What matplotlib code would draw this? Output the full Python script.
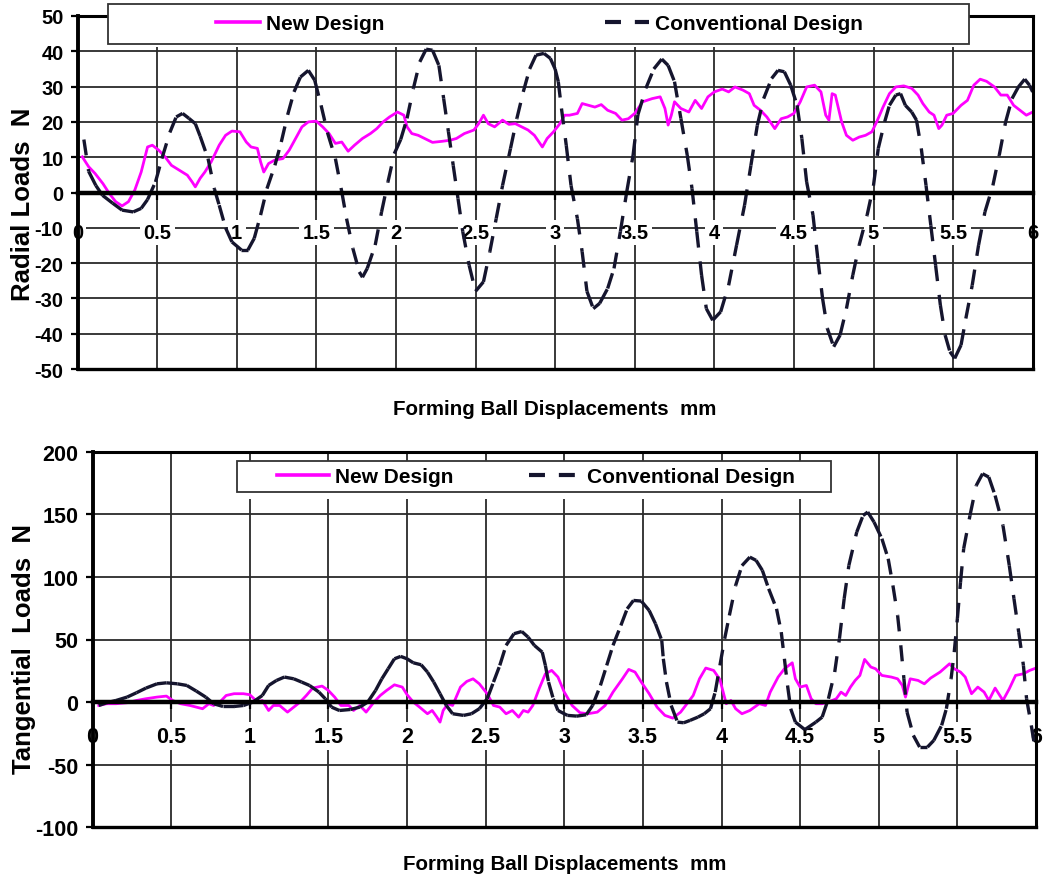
import matplotlib
matplotlib.use("Agg")
import matplotlib.pyplot as plt
from matplotlib.collections import LineCollection
from matplotlib.lines import Line2D
from matplotlib.patches import Rectangle
import numpy as np

plt.rcParams['font.family'] = ['Liberation Sans', 'DejaVu Sans']
plt.rcParams['font.weight'] = 'bold'
plt.rcParams['lines.scale_dashes'] = False

# ---------------- data ----------------
radial_conv_x = [0.04, 0.07, 0.115, 0.157, 0.22, 0.28, 0.35, 0.40, 0.44, 0.49, 0.53, 0.58, 0.62, 0.66,
                 0.70, 0.74, 0.77, 0.82, 0.86, 0.89, 0.93, 0.97, 1.03, 1.07, 1.11, 1.15, 1.19, 1.24,
                 1.28, 1.32, 1.36, 1.40, 1.45, 1.49, 1.53, 1.57, 1.62, 1.66, 1.69, 1.73, 1.77, 1.79,
                 1.82, 1.87, 1.91, 1.95, 1.99, 2.03, 2.07, 2.11, 2.15, 2.19, 2.23, 2.27, 2.30, 2.33,
                 2.36, 2.39, 2.42, 2.46, 2.50, 2.55, 2.59, 2.63, 2.67, 2.72, 2.76, 2.80, 2.84, 2.88,
                 2.93, 2.97, 3.00, 3.02, 3.04, 3.07, 3.10, 3.14, 3.17, 3.20, 3.24, 3.28, 3.33, 3.37,
                 3.41, 3.45, 3.49, 3.52, 3.57, 3.62, 3.67, 3.71, 3.75, 3.79, 3.83, 3.86, 3.89, 3.92,
                 3.95, 3.99, 4.04, 4.09, 4.14, 4.19, 4.23, 4.27, 4.31, 4.36, 4.40, 4.44, 4.48, 4.52,
                 4.55, 4.58, 4.62, 4.65, 4.68, 4.71, 4.75, 4.79, 4.83, 4.87, 4.91, 4.96, 5.00, 5.03,
                 5.07, 5.10, 5.14, 5.17, 5.20, 5.24, 5.27, 5.30, 5.33, 5.36, 5.39, 5.42, 5.45, 5.48,
                 5.51, 5.55, 5.58, 5.62, 5.66, 5.70, 5.75, 5.79, 5.83, 5.87, 5.91, 5.95, 5.98, 6.00]
radial_conv_y = [15, 6, 2, -0.8, -3, -5, -5.5, -4.5, -2, 3, 9.6, 17, 21.4, 22.4,
                 21, 19.5, 16, 9.6, 1, -3.6, -10, -14, -16.3, -16.3, -13, -6.4, 1.1, 7.7,
                 14.3, 22, 28.5, 32.7, 34.6, 31.8, 24.7, 17, 9.6, 0.2, -7.4, -15.9, -22.5, -24,
                 -21.5, -14.9, -5.5, 3, 11, 15, 21, 29.5, 37, 40.6, 40.3, 36, 26.6, 17.2,
                 7.7, -1.7, -11.1, -20.6, -28, -25.3, -16.8, -7.4, 2, 12.5, 21, 28.5, 35, 38.9,
                 39.4, 38, 35, 31.4, 23.8, 13.4, 2, -7.4, -16.8, -28, -32.9, -31.4, -27.2, -21.5,
                 -11.1, 0.2, 10.6, 22, 29.5, 35, 37.8, 36, 31.4, 21, 10.6, 1.1, -11.1, -23.4,
                 -32.9, -36.2, -33.8, -26.3, -14.9, -3.6, 7.7, 19, 26.6, 32.3, 34.6, 34.2, 30.4, 24.7,
                 15.3, 3, -6.4, -18.7, -30, -38.5, -43.7, -40.4, -32.9, -23.4, -14.9, -6.4, 2, 12.5,
                 20, 24.7, 27.6, 28, 24.7, 22.8, 20.5, 12.5, 2, -9.3, -20.6, -31.9, -40.4, -45.1,
                 -47, -43.2, -35.7, -26.3, -14.9, -5.5, 2, 10.6, 20, 26.6, 29.9, 32.1, 30.4, 28.5]

radial_new_x = [0.03, 0.07, 0.11, 0.16, 0.20, 0.24, 0.28, 0.32, 0.36, 0.40, 0.44, 0.47, 0.51, 0.55,
                0.59, 0.64, 0.69, 0.72, 0.74, 0.77, 0.80, 0.84, 0.89, 0.93, 0.97, 1.02, 1.06, 1.09,
                1.13, 1.15, 1.17, 1.20, 1.24, 1.29, 1.33, 1.37, 1.41, 1.45, 1.50, 1.54, 1.58, 1.62,
                1.66, 1.70, 1.74, 1.79, 1.84, 1.88, 1.92, 1.96, 2.01, 2.05, 2.07, 2.10, 2.14, 2.18,
                2.23, 2.29, 2.34, 2.38, 2.43, 2.49, 2.52, 2.55, 2.58, 2.62, 2.67, 2.71, 2.75, 2.79,
                2.83, 2.87, 2.92, 2.95, 2.99, 3.03, 3.06, 3.09, 3.14, 3.17, 3.21, 3.25, 3.29, 3.33,
                3.38, 3.42, 3.46, 3.50, 3.55, 3.61, 3.66, 3.69, 3.71, 3.73, 3.75, 3.79, 3.84, 3.88,
                3.92, 3.96, 4.00, 4.05, 4.09, 4.13, 4.18, 4.22, 4.25, 4.29, 4.33, 4.38, 4.42, 4.46,
                4.50, 4.54, 4.58, 4.63, 4.67, 4.70, 4.72, 4.74, 4.76, 4.80, 4.83, 4.87, 4.91, 4.95,
                4.99, 5.02, 5.06, 5.10, 5.14, 5.19, 5.24, 5.28, 5.31, 5.35, 5.38, 5.41, 5.43, 5.46,
                5.50, 5.55, 5.59, 5.63, 5.67, 5.71, 5.76, 5.80, 5.84, 5.88, 5.92, 5.96, 6.00]
radial_new_y = [10.1, 7.3, 5.4, 2.5, -0.3, -2.6, -3.8, -2.6, 0.7, 5.8, 12.9, 13.4, 12, 10.1,
                7.7, 6.3, 4.9, 3, 1.6, 4, 5.8, 8.7, 13.4, 16.2, 17.4, 17.2, 14.3, 12.9,
                12.5, 8.7, 5.8, 8.2, 9.2, 9.6, 12, 15.3, 18.6, 20, 20.2, 18.6, 16.7, 13.9,
                14.3, 11.7, 13.4, 15.3, 16.7, 18.1, 20, 21.4, 22.8, 21.9, 18.6, 16.7, 16.2, 15.3,
                14.2, 14.5, 14.8, 15.3, 16.7, 17.7, 19.5, 21.9, 19.5, 18.6, 20.5, 19.3, 19.5, 18.6,
                17.7, 16.2, 12.9, 15.3, 17.2, 19.5, 21.9, 21.9, 22.4, 25.2, 24.7, 24.2, 24.9, 23.3,
                22.4, 20.5, 20.9, 22.4, 25.7, 26.6, 27.1, 23.8, 19.1, 21.9, 25.7, 23.8, 22.8, 26.1,
                23.8, 27.1, 28.5, 29.3, 28.5, 29.9, 29, 28, 24.7, 23.3, 21.4, 18.1, 20.9, 21.4,
                22.4, 25.7, 29.9, 30.4, 28.5, 21.9, 20.5, 28, 27.6, 20, 16.2, 14.8, 15.7, 16.2,
                17.2, 20, 24.2, 28, 29.9, 30.2, 29.5, 27.6, 25.2, 22.8, 21.9, 18.1, 19.1, 21.9,
                22.4, 24.7, 26.1, 30.4, 32.1, 31.5, 29.9, 27.6, 27.6, 24.7, 23.3, 21.9, 22.8]

tang_conv_x = [0.04, 0.09, 0.15, 0.22, 0.28, 0.34, 0.41, 0.47, 0.54, 0.60, 0.66, 0.72, 0.77, 0.83,
               0.90, 0.96, 1.02, 1.08, 1.12, 1.17, 1.22, 1.28, 1.33, 1.38, 1.44, 1.48, 1.52, 1.57,
               1.64, 1.70, 1.75, 1.80, 1.84, 1.88, 1.92, 1.96, 2.00, 2.04, 2.09, 2.13, 2.17, 2.21,
               2.25, 2.29, 2.36, 2.41, 2.46, 2.51, 2.55, 2.59, 2.63, 2.68, 2.73, 2.77, 2.81, 2.86,
               2.88, 2.90, 2.93, 2.96, 3.02, 3.08, 3.14, 3.18, 3.23, 3.27, 3.31, 3.36, 3.40, 3.44,
               3.49, 3.54, 3.58, 3.62, 3.63, 3.65, 3.68, 3.72, 3.76, 3.80, 3.85, 3.89, 3.93, 3.96,
               3.99, 4.02, 4.05, 4.09, 4.13, 4.18, 4.22, 4.26, 4.30, 4.35, 4.38, 4.40, 4.42, 4.44,
               4.47, 4.53, 4.60, 4.64, 4.68, 4.72, 4.75, 4.78, 4.81, 4.86, 4.90, 4.93, 4.97, 5.02,
               5.06, 5.09, 5.12, 5.14, 5.16, 5.18, 5.22, 5.26, 5.31, 5.35, 5.40, 5.43, 5.46, 5.48,
               5.50, 5.52, 5.54, 5.58, 5.62, 5.66, 5.70, 5.74, 5.79, 5.83, 5.86, 5.89, 5.92, 5.94,
               5.97, 6.00]
tang_conv_y = [-2.7, -0.5, 1.3, 4, 7.5, 11.2, 14.6, 15.4, 14.6, 13.3, 8.8, 4, -1.3, -3.5,
               -3.5, -2.7, 0, 5.3, 13.3, 17.3, 20, 18.6, 16, 13.3, 8, 2.7, -4, -6.7,
               -5.9, -4, 0, 9.3, 18.6, 26.6, 34.6, 36.5, 34.6, 31.4, 29.8, 24, 16, 6.7,
               -2.7, -9.3, -10.6, -9.3, -5.3, 2.7, 16, 29.3, 45.3, 54.6, 56.4, 51.9, 45.3, 39.9,
               29.3, 16, 2.7, -6.7, -10.6, -11.2, -10.1, -2.7, 13.3, 29.3, 45.3, 61.2, 74.5, 81.2,
               80.7, 73.2, 62.6, 49.3, 34.6, 16, -2.7, -16, -16.5, -14.6, -12, -9.3, -5.3, 8,
               29.3, 50.6, 69.2, 93.2, 109, 115.8, 113.2, 105.2, 90.5, 74.5, 55.9, 34.6, 13.3, -5.3,
               -16, -22, -16, -12, 2.7, 24, 50.6, 82.5, 109.2, 135.8, 149, 151.8, 143.8, 130.5,
               114.5, 93.2, 69.2, 45.3, 18.6, -8, -26.6, -35.9, -35.9, -30.6, -18.6, -5.3, 18.6, 39.9,
               66.6, 95.8, 122.5, 149, 173, 182.4, 179.7, 165, 141, 109.2, 82.5, 55.9, 29.3, 2.7,
               -18.6, -42]

tang_new_x = [0.04, 0.09, 0.15, 0.22, 0.28, 0.34, 0.41, 0.47, 0.51, 0.56, 0.62, 0.70, 0.74, 0.77,
              0.81, 0.85, 0.90, 0.96, 1.00, 1.05, 1.08, 1.12, 1.15, 1.19, 1.24, 1.28, 1.32, 1.36,
              1.40, 1.46, 1.50, 1.54, 1.58, 1.63, 1.66, 1.70, 1.74, 1.79, 1.83, 1.87, 1.92, 1.97,
              2.00, 2.04, 2.08, 2.13, 2.16, 2.19, 2.21, 2.23, 2.26, 2.29, 2.34, 2.38, 2.42, 2.46,
              2.51, 2.55, 2.59, 2.63, 2.67, 2.71, 2.74, 2.77, 2.80, 2.84, 2.88, 2.92, 2.96, 3.00,
              3.05, 3.10, 3.15, 3.21, 3.26, 3.31, 3.37, 3.41, 3.45, 3.49, 3.54, 3.59, 3.64, 3.69,
              3.74, 3.78, 3.82, 3.86, 3.90, 3.95, 3.99, 4.03, 4.06, 4.09, 4.13, 4.18, 4.24, 4.28,
              4.31, 4.36, 4.40, 4.45, 4.47, 4.50, 4.54, 4.57, 4.60, 4.64, 4.68, 4.73, 4.76, 4.79,
              4.82, 4.85, 4.88, 4.91, 4.95, 4.98, 5.02, 5.08, 5.12, 5.15, 5.17, 5.20, 5.25, 5.29,
              5.33, 5.39, 5.45, 5.48, 5.52, 5.55, 5.59, 5.63, 5.67, 5.70, 5.74, 5.79, 5.83, 5.87,
              5.92, 5.96, 6.00]
tang_new_y = [-2.7, -1.3, -1.3, -0.5, 1.3, 2.7, 4, 4.8, 1.3, -1.3, -2.7, -5.3, -1.3, -2.7,
              0, 5.3, 6.7, 6.7, 5.9, 0, 1.3, -6.7, -2.7, -2.7, -8, -4, 0, 5.3,
              11.2, 12.8, 9.3, 4, -2.7, -2.7, -6.7, -2.7, -8, 0, 5.3, 9.3, 13.8, 12,
              6, 0, -4, -9.3, -6.7, -12, -16, -6.7, -1.3, -2.7, 12, 16.5, 18.6, 14.6,
              6.7, -2.7, -4, -9.3, -6.7, -12, -6.7, -8, -2.7, 10.6, 22.6, 25.3, 20, 8,
              -2.7, -8.5, -9.3, -8, -2.7, 8, 18.6, 26.1, 24, 16, 6.7, -4, -10.6, -12.8,
              -8, -1.3, 5.3, 18.6, 27.2, 25.3, 18, -1.3, 1.3, -5.3, -9.3, -6.7, -1.3, -2.7,
              8, 20, 26.6, 31.4, 18.6, 12, 13.3, 2.7, -1.3, -1.3, 0, 2.7, 8, 5.3,
              12, 17.3, 21.3, 34.1, 28, 26.6, 21.3, 20, 18.6, 13.3, 4, 18.6, 17.3, 14.6,
              19.2, 24, 30.6, 26.6, 24, 20, 6.7, 12, 8, 1.3, 11.2, 1.3, 10.6, 21.3,
              22.6, 25.3, 27.2]

x_ticks = [0, 0.5, 1, 1.5, 2, 2.5, 3, 3.5, 4, 4.5, 5, 5.5, 6]
x_tick_labels = ['0', '0.5', '1', '1.5', '2', '2.5', '3', '3.5', '4', '4.5', '5', '5.5', '6']
radial_ticks = [50, 40, 30, 20, 10, 0, -10, -20, -30, -40, -50]
tang_ticks = [200, 150, 100, 50, 0, -50, -100]

NEW_COLOR = '#ff00ff'
CONV_COLOR = '#15152e'
GRID_COLOR = '#2a2a2a'
CONV_DASH = (0, (11.5, 10))

W, H = 1046, 878
fig = plt.figure(figsize=(W / 100, H / 100), dpi=100)
fig.patch.set_facecolor('white')


def fx(px):
    return px / W


def fy(py):
    return 1 - py / H


def dashed_segments(ax, xs, ys):
    # one segment per data interval, so the dash pattern restarts at every point
    pts = np.column_stack([xs, ys])
    segs = np.stack([pts[:-1], pts[1:]], axis=1)
    lc = LineCollection(segs, colors=CONV_COLOR, linewidths=2.4,
                        linestyles=[CONV_DASH], capstyle='butt', zorder=2.2)
    ax.add_collection(lc)


def style_axes(ax, ylim, yticks, ylabel, tick_fs, xpad, ylabel_xy, xlabel_y):
    ax.set_xlim(0, 6)
    ax.set_ylim(*ylim)
    ax.set_xticks(x_ticks)
    ax.set_xticklabels(x_tick_labels)
    ax.set_yticks(yticks)
    ax.set_yticklabels([str(v) for v in yticks])
    ax.grid(True, color=GRID_COLOR, linewidth=1.3)
    ax.yaxis.set_zorder(0.5)
    ax.xaxis.set_zorder(0.6)
    ax.spines['bottom'].set_position(('data', 0))
    ax.spines['bottom'].set_linewidth(3.2)
    ax.spines['bottom'].set_color('black')
    for side in ('left', 'right', 'top'):
        ax.spines[side].set_linewidth(2.2)
        ax.spines[side].set_color('black')
    ax.spines['left'].set_linewidth(2.8)
    ax.axhline(ylim[0], color='black', linewidth=2.4, zorder=2.5, clip_on=False)
    ax.tick_params(axis='x', direction='out', length=5, width=1.6, pad=xpad,
                   labelsize=tick_fs, colors='black')
    ax.tick_params(axis='y', direction='out', length=5, width=1.6, pad=5,
                   labelsize=tick_fs, colors='black')
    for lbl in ax.get_xticklabels():
        lbl.set_fontweight('bold')
        lbl.set_bbox(dict(facecolor='white', edgecolor='none', pad=2.5))
    for lbl in ax.get_yticklabels():
        lbl.set_fontweight('bold')
    ax.set_ylabel(ylabel, fontsize=18.5, fontweight='bold')
    ax.yaxis.set_label_coords(*ylabel_xy)
    ax.set_xlabel('Forming Ball Displacements  mm', fontsize=14.8, fontweight='bold')
    ax.xaxis.set_label_coords(0.5, xlabel_y)


# ---------------- radial loads ----------------
ax1 = fig.add_axes([fx(77.5), fy(370), fx(1032.7) - fx(77.5), fy(17) - fy(370)])
style_axes(ax1, (-50, 50), radial_ticks, 'Radial Loads  N', 14.5, 17,
           (-0.044, 0.47), -0.085)
ax1.plot(radial_new_x, radial_new_y, color=NEW_COLOR, linewidth=2.0, zorder=2.1)
dashed_segments(ax1, radial_conv_x, radial_conv_y)

# ---------------- tangential loads ----------------
ax2 = fig.add_axes([fx(92.5), fy(828.3), fx(1036) - fx(92.5), fy(452.7) - fy(828.3)])
style_axes(ax2, (-100, 200), tang_ticks, 'Tangential  Loads  N', 15.5, 12,
           (-0.060, 0.477), -0.07)
ax2.plot(tang_new_x, tang_new_y, color=NEW_COLOR, linewidth=2.0, zorder=2.1)
dashed_segments(ax2, tang_conv_x, tang_conv_y)

# ---------------- legends ----------------
handles = [Line2D([], [], color=NEW_COLOR, linewidth=2.6),
           Line2D([], [], color=CONV_COLOR, linewidth=3.0, linestyle=CONV_DASH,
                  dash_capstyle='butt')]
names = ['New Design', 'Conventional Design']


def legend_box(x0, y0, x1, y1, white_bottom, cx, cy, hlen, colspace):
    fig.patches.append(Rectangle((fx(x0), fy(white_bottom)), fx(x1) - fx(x0),
                                 fy(y0) - fy(white_bottom), transform=fig.transFigure,
                                 facecolor='white', edgecolor='none', zorder=4))
    fig.patches.append(Rectangle((fx(x0), fy(y1)), fx(x1) - fx(x0), fy(y0) - fy(y1),
                                 transform=fig.transFigure, facecolor='white',
                                 edgecolor='#333333', linewidth=1.3, zorder=5))
    leg = fig.legend(handles, names, ncol=2, loc='center', bbox_to_anchor=(fx(cx), fy(cy)),
                     frameon=False, fontsize=15, handlelength=hlen, handletextpad=0.3,
                     columnspacing=colspace, borderpad=0, borderaxespad=0)
    for t in leg.get_texts():
        t.set_fontweight('bold')
    leg.set_zorder(6)


legend_box(108, 5, 969, 45, 48, 539.5, 25, 2.1, 10.6)
legend_box(237, 462, 831, 493, 500, 536, 477.5, 2.5, 3.6)

fig.savefig('out.png', dpi=100, facecolor='white')
